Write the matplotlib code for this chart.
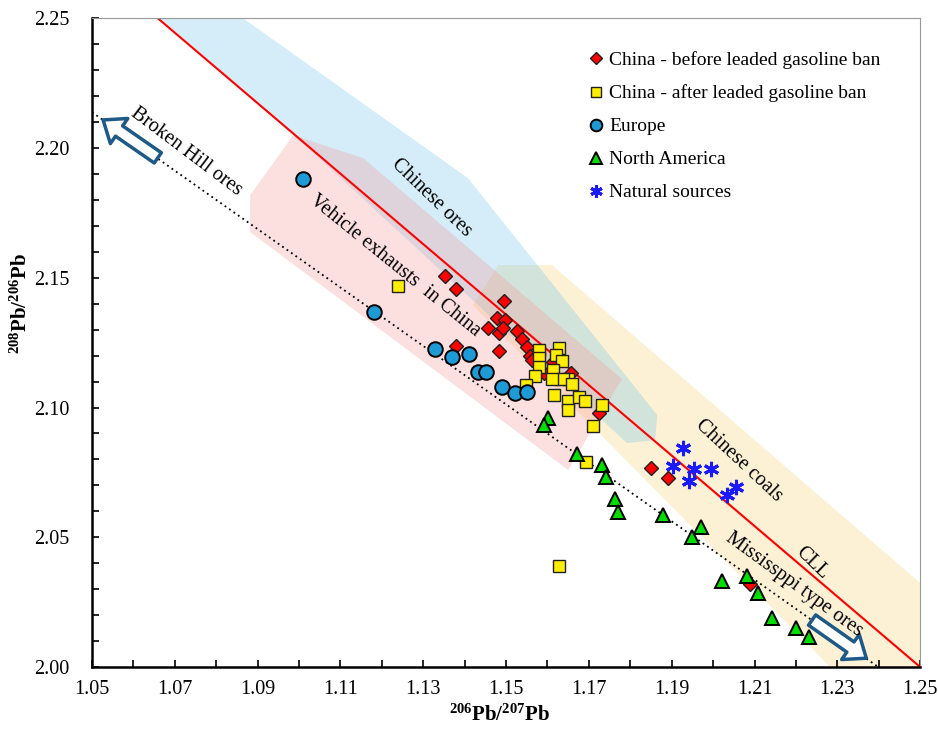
import numpy as np
import matplotlib
matplotlib.use("Agg")
import matplotlib.pyplot as plt
from matplotlib.patches import Polygon, FancyArrowPatch

plt.rcParams['font.family'] = ['Liberation Serif', 'DejaVu Serif']
plt.rcParams['mathtext.fontset'] = 'custom'
plt.rcParams['mathtext.rm'] = 'Liberation Serif'
plt.rcParams['mathtext.bf'] = 'Liberation Serif:bold'

# --- data (206Pb/207Pb, 208Pb/206Pb) ---
before_x = [1.1353, 1.1379, 1.1495, 1.1478, 1.1498, 1.1457, 1.1483, 1.1493, 1.1527, 1.1539,
            1.1551, 1.1558, 1.1563, 1.1379, 1.1483, 1.1592, 1.1614, 1.1657, 1.1725, 1.1850,
            1.1891, 1.2089]
before_y = [2.1506, 2.1456, 2.1410, 2.1344, 2.1337, 2.1306, 2.1287, 2.1306, 2.1294, 2.1263,
            2.1233, 2.1198, 2.1183, 2.1237, 2.1217, 2.1133, 2.1175, 2.1133, 2.0978, 2.0767,
            2.0728, 2.0320]

after_x = [1.1239, 1.1580, 1.1628, 1.1580, 1.1621, 1.1635, 1.1580, 1.1614, 1.1570, 1.1650,
           1.1638, 1.1659, 1.1611, 1.1548, 1.1616, 1.1650, 1.1676, 1.1691, 1.1732, 1.1650,
           1.1710, 1.1693, 1.1628]
after_y = [2.1468, 2.1221, 2.1229, 2.1190, 2.1202, 2.1179, 2.1156, 2.1144, 2.1121, 2.1109,
           2.1109, 2.1090, 2.1109, 2.1086, 2.1048, 2.1025, 2.1040, 2.1025, 2.1009, 2.0990,
           2.0928, 2.0790, 2.0389]

europe_x = [1.1010, 1.1181, 1.1329, 1.1370, 1.1411, 1.1432, 1.1452, 1.1490, 1.1522, 1.1551]
europe_y = [2.1880, 2.1367, 2.1225, 2.1194, 2.1206, 2.1136, 2.1136, 2.1079, 2.1056, 2.1059]

na_x = [1.1601, 1.1592, 1.1672, 1.1732, 1.1742, 1.1763, 1.1771, 1.1879, 1.1971, 1.1949,
        1.2022, 1.2082, 1.2109, 1.2143, 1.2200, 1.2232]
na_y = [2.0959, 2.0932, 2.0820, 2.0778, 2.0732, 2.0647, 2.0597, 2.0586, 2.0539, 2.0501,
        2.0331, 2.0351, 2.0285, 2.0189, 2.0150, 2.0116]

nat_x = [1.1928, 1.1903, 1.1954, 1.1995, 1.1942, 1.2056, 1.2034]
nat_y = [2.0844, 2.0774, 2.0763, 2.0763, 2.0717, 2.0693, 2.0663]

# source fields
ores_poly = [(1.0664, 2.25), (1.0865, 2.25), (1.1408, 2.1884), (1.1865, 2.0971),
             (1.1860, 2.0874), (1.1792, 2.0863), (1.1002, 2.2030)]
exhaust_poly = [(1.0986, 2.2049), (1.1155, 2.1961), (1.1780, 2.1110), (1.1650, 2.0759),
                (1.0882, 2.1676), (1.0882, 2.1818)]
coal_poly = [(1.1481, 2.1549), (1.1611, 2.1549), (1.25, 2.0324), (1.25, 2.00),
             (1.2283, 2.00), (1.1420, 2.1394)]

cll_x = [1.0659, 1.25]
cll_y = [2.25, 2.00]
mix_x = [1.05, 1.2399]
mix_y = [2.2138, 2.00]

fig = plt.figure(figsize=(9.38, 7.29), dpi=100)
ax = fig.add_axes([0.098, 0.085, 0.883, 0.890])

ax.add_patch(Polygon(coal_poly, closed=True, fc='#f8d076', ec='none', alpha=0.3, zorder=1))
ax.add_patch(Polygon(ores_poly, closed=True, fc='#73c6eb', ec='none', alpha=0.3, zorder=1))
ax.add_patch(Polygon(exhaust_poly, closed=True, fc='#f89898', ec='none', alpha=0.3, zorder=1))

ax.plot(cll_x, cll_y, color='#ff0000', lw=1.5, zorder=2)
ax.plot(mix_x, mix_y, color='black', lw=1.3, ls=(0, (1, 2)), zorder=2)

for tail, tip in [((1.0659, 2.1962), (1.0527, 2.2108)), ((1.2239, 2.0181), (1.2370, 2.0034))]:
    ax.add_patch(FancyArrowPatch(tail, tip,
                                 arrowstyle='simple,head_length=1.4,head_width=2.2,tail_width=0.9',
                                 mutation_scale=10, fc='white', ec='#1d5a87', lw=2.5,
                                 shrinkA=0, shrinkB=0, zorder=3))

ax.plot(before_x, before_y, 'D', ms=7.6, mfc='#ff0000', mec='#202020', mew=1.0,
        ls='none', zorder=4, label='China - before leaded gasoline ban')
ax.plot(after_x, after_y, 's', ms=8.6, mfc='#ffee00', mec='#202020', mew=1.0,
        ls='none', zorder=4, label='China - after leaded gasoline ban')
ax.plot(europe_x, europe_y, 'o', ms=10.5, mfc='#1e9ad6', mec='black', mew=1.4,
        ls='none', zorder=4, label='Europe')
ax.plot(na_x, na_y, '^', ms=10, mfc='#00dd00', mec='black', mew=1.4,
        ls='none', zorder=4, label='North America')
ax.plot(nat_x, nat_y, marker=(6, 2, 0), ms=11, color='#1a1aff', mew=2.2,
        ls='none', zorder=4, label='Natural sources')

tkw = dict(fontsize=14.5, color='black', ha='center', va='center', zorder=5)
ax.text(1.0729, 2.1984, 'Broken Hill ores', rotation=-37, **tkw)
ax.text(1.1321, 2.1807, 'Chinese ores', rotation=-44, **tkw)
ax.text(1.1232, 2.1545, 'Vehicle exhausts  in China', rotation=-39, **tkw)
ax.text(1.2063, 2.0797, 'Chinese coals', rotation=-43, **tkw)
ax.text(1.2239, 2.0401, 'CLL', rotation=-44, **tkw)
ax.text(1.2196, 2.0316, 'Mississppi type ores', rotation=-36, **tkw)

ax.set_xlim(1.05, 1.25)
ax.set_ylim(2.00, 2.25)
ax.set_xticks(np.round(np.arange(1.05, 1.2501, 0.02), 2))
ax.set_xticks(np.round(np.arange(1.05, 1.2501, 0.01), 2), minor=True)
ax.set_yticks(np.round(np.arange(2.00, 2.2501, 0.05), 2))
ax.set_yticks(np.round(np.arange(2.00, 2.2501, 0.01), 2), minor=True)
ax.xaxis.set_major_formatter(plt.FormatStrFormatter('%.2f'))
ax.yaxis.set_major_formatter(plt.FormatStrFormatter('%.2f'))
ax.tick_params(axis='both', which='both', direction='in', length=5, width=1.2, labelsize=14.5)
ax.tick_params(axis='x', which='both', top=False, pad=9)
ax.tick_params(axis='y', which='both', right=False, pad=16)

for s in ['left', 'bottom']:
    ax.spines[s].set_linewidth(1.8)
    ax.spines[s].set_color('black')
for s in ['top', 'right']:
    ax.spines[s].set_linewidth(0.8)
    ax.spines[s].set_color('#999999')

ax.set_xlabel(r'$\mathbf{^{206}Pb/^{207}Pb}$', fontsize=15)
ax.set_ylabel(r'$\mathbf{^{208}Pb/^{206}Pb}$', fontsize=15)
ax.xaxis.set_label_coords(0.4915, -0.058)
ax.yaxis.set_label_coords(-0.072, 0.56)

ax.legend(loc='upper left', bbox_to_anchor=(0.599, 0.949), frameon=False, fontsize=14,
          markerscale=0.8, handlelength=0.8, handletextpad=0.3, labelspacing=0.79,
          borderpad=0, borderaxespad=0)

fig.savefig('out.png', dpi=100)
